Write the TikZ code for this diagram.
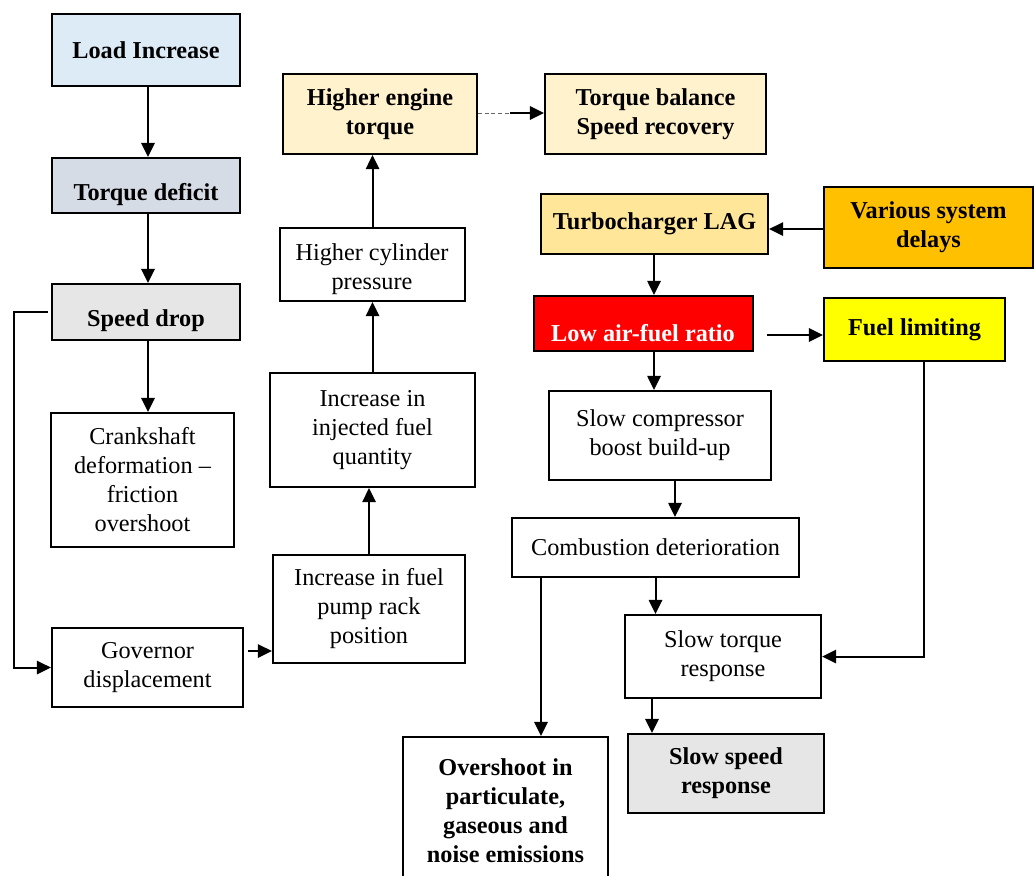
\documentclass[tikz,border=0pt]{standalone}
\usepackage{fontspec}
\setmainfont{Liberation Serif}
\usetikzlibrary{arrows.meta,calc}
\definecolor{cLoad}{HTML}{DDEBF7}
\definecolor{cTd}{HTML}{D6DCE5}
\definecolor{cGray}{HTML}{E7E6E6}
\definecolor{cCream}{HTML}{FFF2CC}
\definecolor{cTurbo}{HTML}{FFE699}
\definecolor{cOrange}{HTML}{FFC000}
\definecolor{cRed}{HTML}{FF0000}
\definecolor{cYellow}{HTML}{FFFF00}
\newcommand{\mkbox}[7]{%
  \node[box, fill=#6, minimum width={(#4-#2)*0.75pt}, minimum height={(#5-#3)*0.75pt}]
    (#1) at ({(#2+#4)/2},{(#3+#5)/2}) {#7};}
\begin{document}
\begin{tikzpicture}[x=0.75pt,y=-0.75pt,
  box/.style={draw=black, line width=1.7pt, inner sep=0pt, align=center,
    font=\fontsize{18.2}{21.75}\selectfont},
  lbl/.style={inner sep=0pt, align=center, font=\fontsize{18.2}{21.75}\selectfont},
  arr/.style={line width=1.5pt, -{Triangle[length=10.5pt,width=10pt]}},
  ln/.style={line width=1.5pt}]
\useasboundingbox (0,0) rectangle (1035,875);
% boxes
\mkbox{load}{52}{14}{240}{86}{cLoad}{\bfseries Load Increase}
\mkbox{td}{52}{158}{240}{213}{cTd}{}
\node[lbl] (tdt) at (146,195) {\bfseries Torque deficit};
\mkbox{sd}{52}{284}{240}{340}{cGray}{}
\node[lbl] (sdt) at (146,321) {\bfseries Speed drop};
\mkbox{crank}{51}{413}{234}{547}{white}{Crankshaft\\deformation --\\friction\\overshoot}
\mkbox{gov}{52}{628}{243}{707}{white}{Governor\\displacement}
\mkbox{pump}{273}{555}{465}{663}{white}{Increase in fuel\\pump rack\\position}
\mkbox{inj}{270}{373}{475}{487}{white}{Increase in\\injected fuel\\quantity}
\mkbox{cyl}{280}{228}{465}{301}{white}{}
\node[lbl] (cylt) at (372,269) {Higher cylinder\\pressure};
\mkbox{het}{283}{74}{477}{154}{cCream}{\bfseries Higher engine\\\bfseries torque}
\mkbox{tb}{545}{74}{766}{154}{cCream}{\bfseries Torque balance\\\bfseries Speed recovery}
\mkbox{turbo}{541}{194}{768}{254}{cTurbo}{\bfseries Turbocharger LAG}
\mkbox{var}{824}{187}{1033}{268}{cOrange}{\bfseries Various system\\\bfseries delays}
\mkbox{afr}{534}{296}{753}{351}{cRed}{}
\node[lbl, text=white] (afrt) at (643,333) {\bfseries Low air-fuel ratio};
\mkbox{fl}{824}{298}{1005}{361}{cYellow}{\bfseries Fuel limiting}
\mkbox{sc}{549}{391}{771}{480}{white}{Slow compressor\\boost build-up}
\mkbox{comb}{512}{518}{799}{577}{white}{Combustion deterioration}
\mkbox{st}{625}{615}{821}{698}{white}{Slow torque\\response}
\mkbox{ss}{628}{734}{824}{813}{cGray}{\bfseries Slow speed\\\bfseries response}
\mkbox{os}{403}{737}{608}{885}{white}{\bfseries Overshoot in\\\bfseries particulate,\\\bfseries gaseous and\\\bfseries noise emissions}
% helper coordinates
\coordinate (lx) at (14,0);
\coordinate (gy) at (0,651);
\coordinate (dm) at (510,113);
\coordinate (a1) at (767,335);
\coordinate (vy) at (0,229);
\coordinate (x654) at (654,0);
\coordinate (x675) at (675,0);
\coordinate (x541) at (541,0);
\coordinate (x924) at (924,0);
\coordinate (x652) at (652,0);
\coordinate (x148) at (148,0);
% connectors
\draw[arr] (load.south -| x148) -- (td.north -| x148);
\draw[arr] (td.south -| x148) -- (sd.north -| x148);
\draw[arr] (sd.south -| x148) -- (crank.north -| x148);
\draw[arr] ([xshift=-2pt]sd.west) -- (sd.west -| lx) |- (gov.west);
\draw[arr] ([xshift=3pt]gov.east |- gy) -- (pump.west |- gy);
\draw[arr] (pump.north) -- (pump.north |- inj.south);
\draw[arr] (inj.north) -- (inj.north |- cyl.south);
\draw[arr] (cyl.north) -- (cyl.north |- het.south);
\draw[line width=0.6pt, gray!80!black, dash pattern=on 3pt off 2pt] (het.east |- dm) -- (dm);
\draw[arr] (dm) -- (tb.west |- dm);
\draw[arr] (var.west |- vy) -- (turbo.east |- vy);
\draw[arr] (turbo.south -| x654) -- (afr.north -| x654);
\draw[arr] (a1) -- (fl.west |- a1);
\draw[arr] (afr.south -| x654) -- (sc.north -| x654);
\draw[arr] (sc.south -| x675) -- (comb.north -| x675);
\draw[arr] (comb.south) -- (comb.south |- st.north);
\draw[arr] (comb.south -| x541) -- (os.north -| x541);
\draw[arr] (fl.south -| x924) |- (st.east);
\draw[arr] (st.south -| x652) -- (ss.north -| x652);
\end{tikzpicture}
\end{document}
